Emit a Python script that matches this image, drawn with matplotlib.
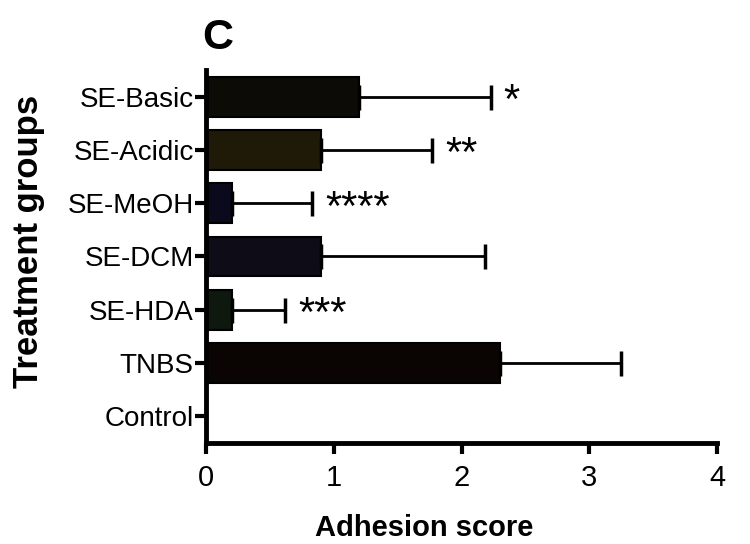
import matplotlib.pyplot as plt

plt.rcParams['font.family'] = ['Liberation Sans', 'DejaVu Sans']

groups = ["SE-Basic", "SE-Acidic", "SE-MeOH", "SE-DCM", "SE-HDA", "TNBS", "Control"]
scores = [1.2, 0.9, 0.2, 0.9, 0.2, 2.3, 0.0]
errors = [1.03, 0.87, 0.63, 1.28, 0.42, 0.95, 0.0]
stars = ["*", "**", "****", "", "***", "", ""]
colors = ["#0c0b06", "#1e1a07", "#0a0a1c", "#0e0c16", "#0e180e", "#0a0503", "#000000"]

fig = plt.figure(figsize=(7.5, 5.44), dpi=100)
ax = fig.add_axes([0.275, 0.186, 0.681, 0.685])

ypos = list(range(len(groups)))
ax.barh(ypos, scores, height=0.75, color=colors, edgecolor="black", linewidth=1.5)
for i in ypos:
    if errors[i] > 0:
        ax.errorbar(scores[i], i, xerr=[[0], [errors[i]]], fmt="none",
                    ecolor="black", elinewidth=2, capsize=9, capthick=2.5)
    if stars[i]:
        ax.text(scores[i] + errors[i] + 0.1, i + 0.1, stars[i],
                fontsize=30, va="center", ha="left")

ax.set_ylim(len(groups) - 0.5, -0.5)
ax.set_xlim(0, 4)
ax.set_xticks([0, 1, 2, 3, 4])
ax.set_yticks(ypos)
ax.set_yticklabels(groups)
ax.tick_params(axis="y", labelsize=20, width=3, length=8, pad=1)
ax.tick_params(axis="x", labelsize=21, width=3, length=8, pad=7)
for s in ["top", "right"]:
    ax.spines[s].set_visible(False)
for s in ["left", "bottom"]:
    ax.spines[s].set_linewidth(3.5)

ax.set_xlabel("Adhesion score", fontsize=21, fontweight="bold")
ax.set_ylabel("Treatment groups", fontsize=25, fontweight="bold")
ax.xaxis.set_label_coords(0.427, -0.19)
ax.yaxis.set_label_coords(-0.315, 0.54)
fig.text(0.29, 0.93, "C", fontsize=31, fontweight="bold", ha="center", va="center")

fig.savefig("out.png", dpi=100)
